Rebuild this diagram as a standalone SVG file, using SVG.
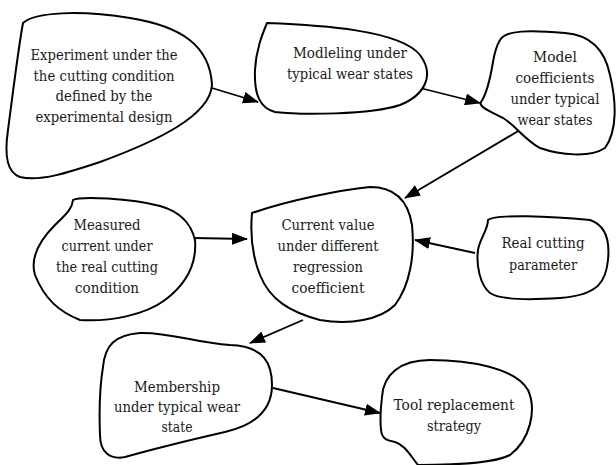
<svg xmlns="http://www.w3.org/2000/svg" width="616" height="465" viewBox="0 0 616 465">
<defs>
<style>
.b{fill:#fff;stroke:#000;stroke-width:2;stroke-linejoin:round}
.t{font-family:'DejaVu Serif',serif;font-size:15.5px;fill:#1a1a1a;text-anchor:middle}
.c{stroke:#000;stroke-width:1.8;fill:none;marker-end:url(#ah)}
</style>
<marker id="ah" markerWidth="16" markerHeight="12" refX="15" refY="6" orient="auto" markerUnits="userSpaceOnUse">
<path d="M0,0 L16,6 L0,12 Z" fill="#000"/>
</marker>
</defs>
<rect width="616" height="465" fill="#fff"/>
<g id="connectors">
<line class="c" x1="212" y1="88" x2="258" y2="102"/>
<line class="c" x1="420" y1="88" x2="480" y2="103"/>
<line class="c" x1="520" y1="130" x2="405" y2="198"/>
<line class="c" x1="194" y1="238" x2="247" y2="239"/>
<line class="c" x1="475" y1="253" x2="415" y2="240"/>
<line class="c" x1="303" y1="320" x2="250" y2="343"/>
<line class="c" x1="273" y1="388" x2="380" y2="413"/>
</g>
<g id="n1">
<path class="b" d="M23,23 C35,12 80,10 130,18 C180,26 210,45 212,85 C210,115 160,140 100,162 C70,172 40,182 20,177 C5,172 5,150 8,130 C12,100 18,50 23,23 Z"/>
<text class="t" x="104" y="60" textLength="147" lengthAdjust="spacingAndGlyphs">Experiment under the</text>
<text class="t" x="104" y="81" textLength="141" lengthAdjust="spacingAndGlyphs">the cutting condition</text>
<text class="t" x="104" y="101" textLength="97" lengthAdjust="spacingAndGlyphs">defined by the</text>
<text class="t" x="104" y="122" textLength="137" lengthAdjust="spacingAndGlyphs">experimental design</text>
</g>
<g id="n2">
<path class="b" d="M267,23 C320,25 400,30 420,55 C435,75 425,95 400,105 C370,115 300,115 275,112 C260,108 254,95 255,70 C256,50 262,35 267,23 Z"/>
<text class="t" x="350" y="58" textLength="114" lengthAdjust="spacingAndGlyphs">Modleling under</text>
<text class="t" x="350" y="79" textLength="126" lengthAdjust="spacingAndGlyphs">typical wear states</text>
</g>
<g id="n3">
<path class="b" d="M500,40 C505,30 530,30 565,33 C590,35 605,50 610,75 C616,100 618,130 605,148 C590,158 560,155 540,148 C525,140 515,125 503,118 C492,112 478,107 481,102 C486,95 490,80 493,62 C495,50 497,45 500,40 Z"/>
<text class="t" x="555" y="62" textLength="44" lengthAdjust="spacingAndGlyphs">Model</text>
<text class="t" x="555" y="83" textLength="79" lengthAdjust="spacingAndGlyphs">coefficients</text>
<text class="t" x="555" y="104" textLength="89" lengthAdjust="spacingAndGlyphs">under typical</text>
<text class="t" x="555" y="125" textLength="75" lengthAdjust="spacingAndGlyphs">wear states</text>
</g>
<g id="n4">
<path class="b" d="M73,200 C80,196 130,198 160,206 C185,213 192,228 195,240 C197,265 185,285 165,300 C145,315 110,322 80,320 C60,312 45,300 35,275 C30,258 40,240 55,225 C65,215 72,210 73,200 Z"/>
<text class="t" x="107" y="230" textLength="67" lengthAdjust="spacingAndGlyphs">Measured</text>
<text class="t" x="107" y="251" textLength="91" lengthAdjust="spacingAndGlyphs">current under</text>
<text class="t" x="107" y="272" textLength="102" lengthAdjust="spacingAndGlyphs">the real cutting</text>
<text class="t" x="107" y="293" textLength="64" lengthAdjust="spacingAndGlyphs">condition</text>
</g>
<g id="n5">
<path class="b" d="M252,213 C290,200 340,190 370,187 C395,187 408,200 412,225 C415,255 410,285 395,305 C380,320 350,325 320,320 C290,312 270,300 260,275 C252,255 250,235 252,213 Z"/>
<text class="t" x="328" y="230" textLength="93" lengthAdjust="spacingAndGlyphs">Current value</text>
<text class="t" x="328" y="251" textLength="101" lengthAdjust="spacingAndGlyphs">under different</text>
<text class="t" x="328" y="272" textLength="70" lengthAdjust="spacingAndGlyphs">regression</text>
<text class="t" x="328" y="293" textLength="73" lengthAdjust="spacingAndGlyphs">coefficient</text>
</g>
<g id="n6">
<path class="b" d="M488,220 C495,214 550,216 590,220 C605,225 610,240 608,260 C606,280 600,295 560,298 C530,300 500,300 490,293 C480,285 476,265 478,250 C480,238 488,230 488,220 Z"/>
<text class="t" x="543" y="248" textLength="83" lengthAdjust="spacingAndGlyphs">Real cutting</text>
<text class="t" x="543" y="270" textLength="68" lengthAdjust="spacingAndGlyphs">parameter</text>
</g>
<g id="n7">
<path class="b" d="M103,367 C105,345 115,335 140,333 C170,332 195,343 230,345 C265,346 272,365 272,385 C272,410 255,425 225,432 C190,440 150,450 125,457 C110,460 100,452 100,435 C99,410 100,385 103,367 Z"/>
<text class="t" x="177" y="392" textLength="86" lengthAdjust="spacingAndGlyphs">Membership</text>
<text class="t" x="177" y="412" textLength="126" lengthAdjust="spacingAndGlyphs">under typical wear</text>
<text class="t" x="177" y="432" textLength="31" lengthAdjust="spacingAndGlyphs">state</text>
</g>
<g id="n8">
<path class="b" d="M382,397 C383,375 400,360 430,360 C470,360 515,368 528,390 C537,410 530,440 510,455 C495,463 450,465 418,465 C410,455 405,445 395,442 C385,440 382,438 381,430 C380,420 381,405 382,397 Z"/>
<text class="t" x="454" y="410" textLength="121" lengthAdjust="spacingAndGlyphs">Tool replacement</text>
<text class="t" x="454" y="431" textLength="54" lengthAdjust="spacingAndGlyphs">strategy</text>
</g>
</svg>
